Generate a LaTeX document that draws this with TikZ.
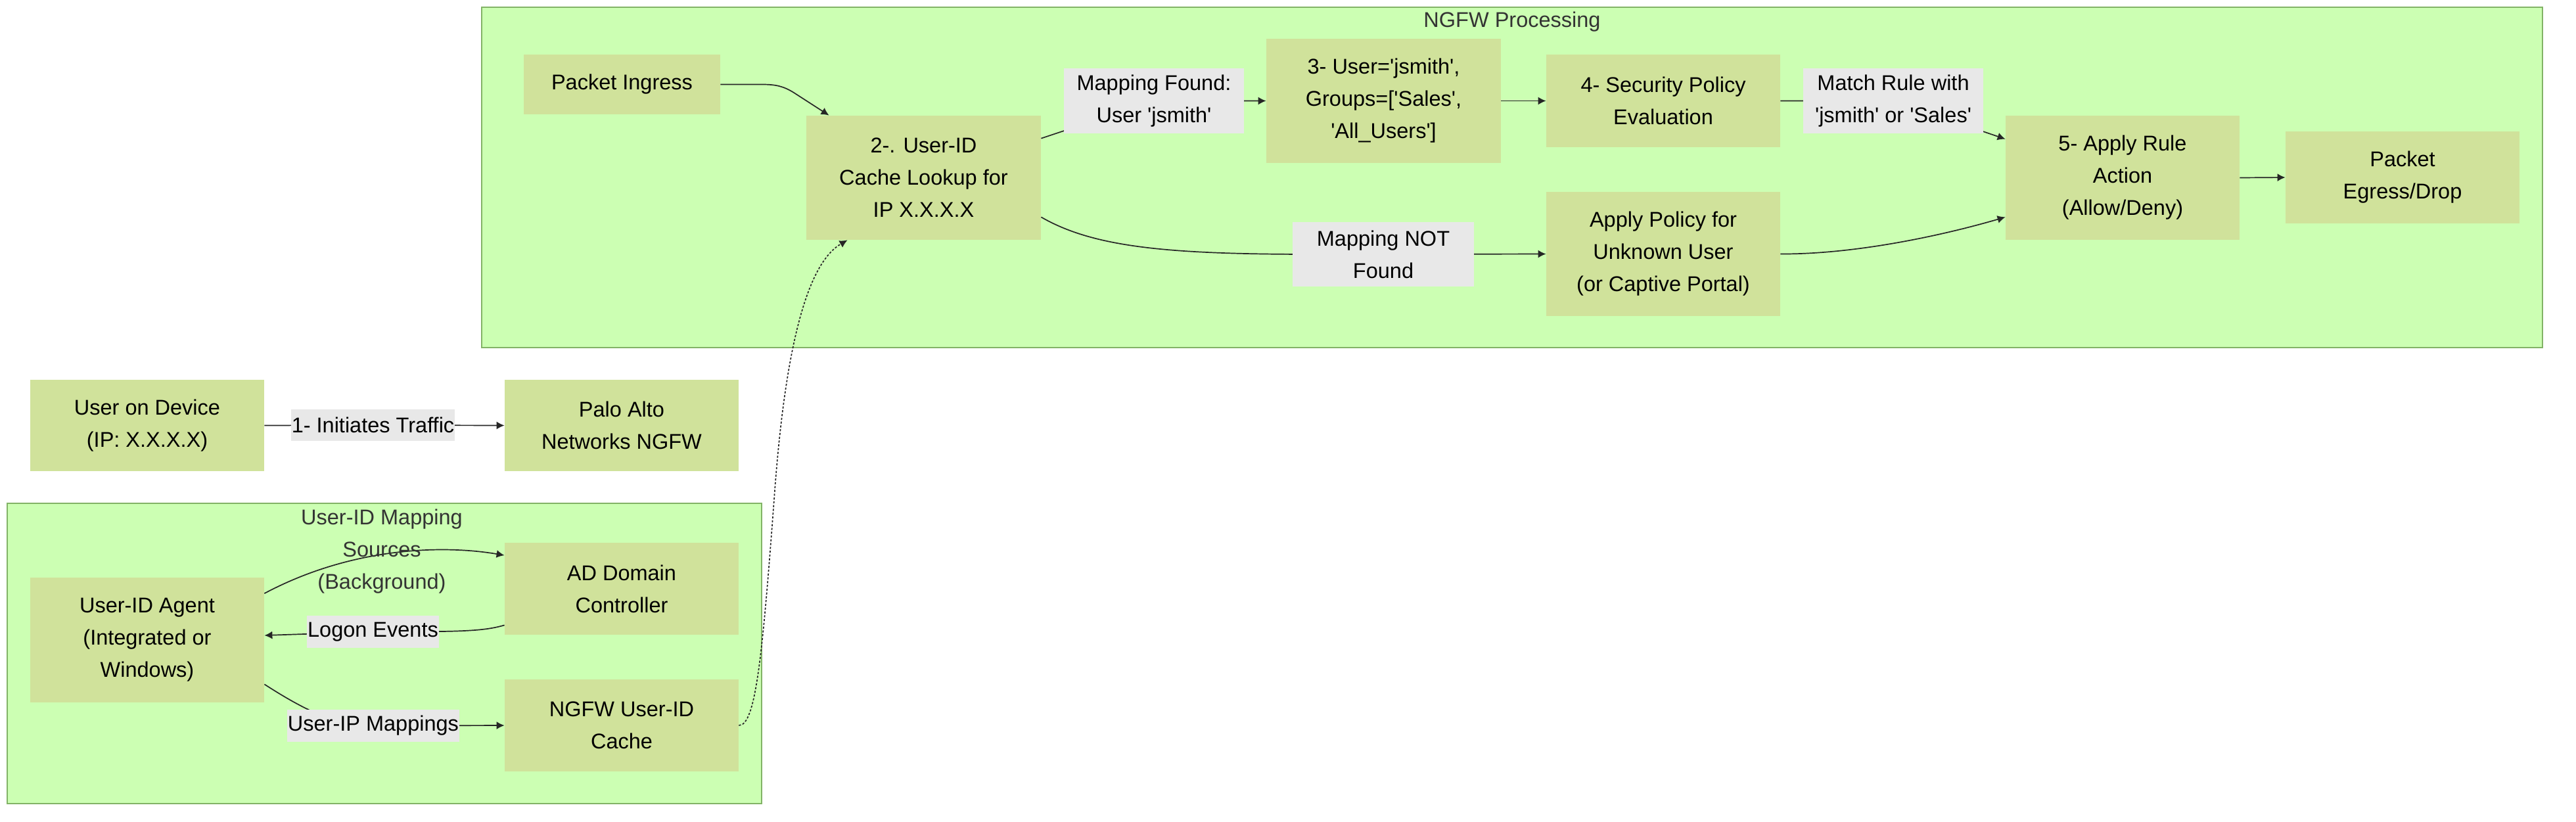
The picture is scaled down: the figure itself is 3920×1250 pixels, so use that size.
\documentclass[tikz,border=0pt]{standalone}
\usepackage{fontspec}
\setmainfont{Liberation Sans}
\usetikzlibrary{arrows.meta,calc}
\definecolor{clfill}{HTML}{CCFFB3}
\definecolor{clline}{HTML}{82B366}
\definecolor{nodefill}{HTML}{D0E29B}
\definecolor{lblfill}{HTML}{E8E8E8}
\definecolor{titlecol}{HTML}{333333}
\newcommand{\sq}{\textquotesingle}
\pgfdeclarelayer{bg}
\pgfdeclarelayer{edges}
\pgfsetlayers{bg,edges,main}
\begin{document}
\begin{tikzpicture}[x=0.5pt,y=-0.5pt,
  every node/.style={font=\fontsize{16.25}{24.5}\selectfont, inner sep=0pt, align=center},
  box/.style={fill=nodefill, text=black},
  lbl/.style={fill=lblfill, text=black},
  cluster/.style={fill=clfill, draw=clline, line width=1pt},
  ctitle/.style={text=titlecol},
  edge/.style={draw=black!85, line width=0.85pt, -{Latex[length=6pt,width=6pt]}},
  dotedge/.style={edge, dash pattern=on 1.6pt off 1.3pt}]
\useasboundingbox (0,0) rectangle (3920,1250);
% NGFW processing nodes
\node[box, minimum width=149.5pt, minimum height=45.5pt] (ingress) at (946.5,128.5) {Packet Ingress};
\node[box, minimum width=178.5pt, minimum height=94.5pt] (uid) at (1405.5,270.5) {2-. User-ID\\Cache Lookup for\\IP X.X.X.X};
\node[box, minimum width=178.5pt, minimum height=94.5pt] (u3) at (2105.5,153.5) {3- User=\sq jsmith\sq,\\Groups=[\sq Sales\sq,\\\sq All\_Users\sq]};
\node[box, minimum width=178pt, minimum height=70.5pt] (sec4) at (2531,153.5) {4- Security Policy\\Evaluation};
\node[box, minimum width=178pt, minimum height=94.5pt] (act5) at (3230,270.5) {5- Apply Rule\\Action\\(Allow/Deny)};
\node[box, minimum width=178pt, minimum height=70pt] (egress) at (3656,270) {Packet\\Egress/Drop};
\node[box, minimum width=178pt, minimum height=94.5pt] (unknown) at (2531,386.5) {Apply Policy for\\Unknown User\\(or Captive Portal)};
\node[lbl, minimum width=137pt, minimum height=49.5pt] (found) at (1756,153.5) {Mapping Found:\\User \sq jsmith\sq};
\node[lbl, minimum width=137pt, minimum height=49.5pt] (match) at (2881,153.5) {Match Rule with\\\sq jsmith\sq{} or \sq Sales\sq};
\node[lbl, minimum width=138pt, minimum height=49pt] (notfound) at (2105,387) {Mapping NOT\\Found};
% outside nodes
\node[box, minimum width=178pt, minimum height=69.5pt] (user) at (224,647.5) {User on Device\\(IP: X.X.X.X)};
\node[box, minimum width=178pt, minimum height=69.5pt] (palo) at (946,647.5) {Palo Alto\\Networks NGFW};
\node[lbl, minimum width=124.5pt, minimum height=24pt] (init) at (567.5,647) {1- Initiates Traffic};
% mapping sources nodes
\node[box, minimum width=178pt, minimum height=95pt] (agent) at (224,974) {User-ID Agent\\(Integrated or\\Windows)};
\node[box, minimum width=178pt, minimum height=70pt] (ad) at (946,896) {AD Domain\\Controller};
\node[box, minimum width=178pt, minimum height=70pt] (cache) at (946,1104) {NGFW User-ID\\Cache};
\node[lbl, minimum width=100.5pt, minimum height=24.5pt] (logon) at (567.5,961.5) {Logon Events};
\node[lbl, minimum width=131pt, minimum height=24.5pt] (userip) at (568,1104.5) {User-IP Mappings};
% clusters
\begin{pgfonlayer}{bg}
\draw[cluster] (733,11) rectangle (3869,529);
\node[ctitle] (t1) at (2301,33) {NGFW Processing};
\draw[cluster] (11,766) rectangle (1159,1223);
\end{pgfonlayer}
\node[ctitle] (t2) at (581,839.5) {User-ID Mapping\\Sources\\(Background)};
% edges
\begin{pgfonlayer}{edges}
\draw[edge] (ingress.east) -- (1160,128.5) .. controls (1180,128.5) and (1192,131) .. (1208,141) -- ($(uid.north west)+(35,0)$);
\draw[edge] ($(uid.north east)+(0,35)$) -- (found.center) -- (u3.west);
\draw[edge] (u3.east) -- (sec4.west);
\draw[edge] (sec4.east) -- (match.center) -- ($(act5.north west)+(0,36)$);
\draw[edge] ($(uid.south east)+(0,-35)$) .. controls (1665,377) and (1780,387) .. (2000,387) -- (notfound.center) -- (unknown.west);
\draw[edge] (unknown.east) .. controls (2820,387) and (2950,360) .. ($(act5.south west)+(0,-35)$);
\draw[edge] (act5.east) -- (egress.west);
\draw[edge] (user.east) -- (init.center) -- (palo.west);
\draw[edge] ($(agent.north east)+(0,24.5)$) .. controls (540,830) and (680,830) .. ($(ad.north west)+(0,19.5)$);
\draw[edge] ($(ad.south west)+(0,-15)$) .. controls (735,961) and (700,961.5) .. (logon.center) -- ($(agent.east)+(0,-7)$);
\draw[edge] ($(agent.south east)+(0,-28)$) .. controls (470,1085) and (515,1104.5) .. (userip.center) -- (cache.west);
\draw[dotedge] (cache.east) .. controls (1150,1104) and (1160,1000) .. (1178,760) .. controls (1195,520) and (1230,400) .. ($(uid.south west)+(63,0)$);
\end{pgfonlayer}
\end{tikzpicture}
\end{document}
